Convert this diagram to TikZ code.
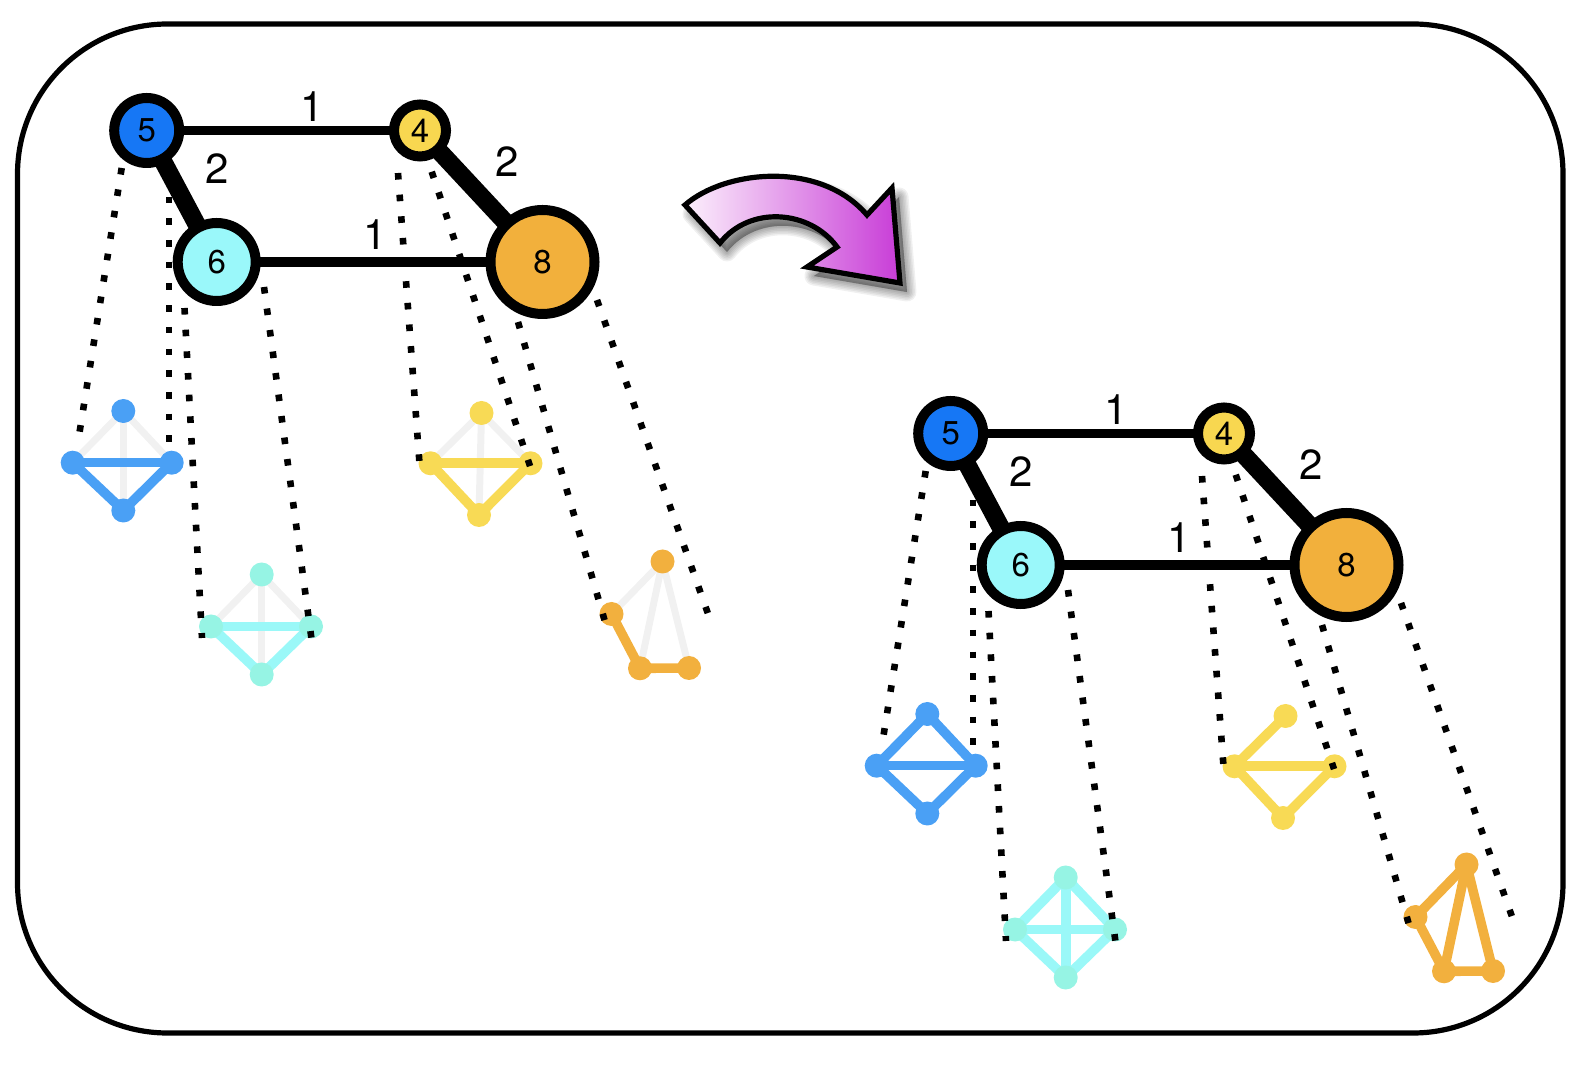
\documentclass[tikz,border=0pt]{standalone}
\usepackage{fontspec}
\setmainfont{TeX Gyre Heros}
\pgfdeclarelayer{lA}
\pgfdeclarelayer{lB}
\pgfdeclarelayer{lC}
\pgfdeclarelayer{lD}
\pgfsetlayers{lA,lB,lC,lD,main}
\definecolor{cBlue}{RGB}{22,119,245}
\definecolor{cYel}{RGB}{248,215,80}
\definecolor{cCyan}{RGB}{154,248,250}
\definecolor{cOra}{RGB}{242,176,60}
\definecolor{sBlue}{RGB}{74,160,245}
\definecolor{sCyan}{RGB}{154,248,248}
\definecolor{sMint}{RGB}{150,244,228}
\definecolor{sYel}{RGB}{248,218,85}
\definecolor{sOra}{RGB}{242,176,62}
\definecolor{sGrey}{RGB}{241,241,241}
\definecolor{aL}{RGB}{252,240,252}
\definecolor{aR}{RGB}{200,60,215}
\tikzset{
  bignode/.style={circle, draw=black, line width=5pt, inner sep=0pt, font=\fontsize{16.5}{16.5}\selectfont},
  wlabel/.style={inner sep=0pt, font=\fontsize{21}{21}\selectfont},
  dotline/.style={line width=3.3pt, dash pattern=on 3.3pt off 7.55pt},
  sdot/.style={circle, inner sep=0pt, minimum size=12pt, fill=#1},
  sedge/.style={line width=4.8pt, draw=#1},
  gedge/.style={line width=3.5pt, draw=sGrey},
  thinedge/.style={line width=4.6pt},
  thickedge/.style={line width=9pt},
}
\newcommand\halfpic[1]{%
  \node[bignode, fill=cBlue, minimum size=32.5pt] (#1n5) at (146.7,130.5) {5};
  \node[bignode, fill=cYel, minimum size=26pt] (#1n4) at (420,130.5) {4};
  \node[bignode, fill=cCyan, minimum size=39pt] (#1n6) at (216.7,262) {6};
  \node[bignode, fill=cOra, minimum size=52pt] (#1n8) at (542.5,262) {8};
  \node[wlabel] (#1w54) at (311.7,106.7) {1};
  \node[wlabel] (#1w56) at (216.7,168.3) {2};
  \node[wlabel] (#1w48) at (506.7,161.7) {2};
  \node[wlabel] (#1w68) at (375,235) {1};
  \begin{pgfonlayer}{lD}
    \draw[thinedge] (#1n5.center) -- (#1n4.center);
    \draw[thinedge] (#1n6.center) -- (#1n8.center);
    \draw[thickedge] (#1n5.center) -- (#1n6.center);
    \draw[thickedge] (#1n4.center) -- (#1n8.center);
  \end{pgfonlayer}
  \begin{pgfonlayer}{lB}
    \node[sdot=sBlue] (#1bT) at (123.3,411) {};
    \node[sdot=sBlue] (#1bL) at (72.7,462.7) {};
    \node[sdot=sBlue] (#1bR) at (171.7,462.7) {};
    \node[sdot=sBlue] (#1bB) at (123.3,510.5) {};
    \node[sdot=sMint] (#1cT) at (261.7,574.5) {};
    \node[sdot=sMint] (#1cL) at (211,626.5) {};
    \node[sdot=sMint] (#1cR) at (311,626.5) {};
    \node[sdot=sMint] (#1cB) at (261.7,674.5) {};
    \node[sdot=sYel] (#1yT) at (481.5,413) {};
    \node[sdot=sYel] (#1yL) at (430.5,463.3) {};
    \node[sdot=sYel] (#1yR) at (530.5,463.3) {};
    \node[sdot=sYel] (#1yB) at (479,515) {};
    \node[sdot=sOra] (#1oT) at (662.5,561.5) {};
    \node[sdot=sOra] (#1oL) at (611.5,614) {};
    \node[sdot=sOra] (#1oBL) at (640,668.3) {};
    \node[sdot=sOra] (#1oBR) at (689,668) {};
  \end{pgfonlayer}
  \coordinate (#1dA1) at (121.7,168); \coordinate (#1dA2) at (78,442);
  \coordinate (#1dB1) at (169,175);   \coordinate (#1dB2) at (169,442);
  \coordinate (#1dC1) at (184.5,308); \coordinate (#1dC2) at (202,638);
  \coordinate (#1dD1) at (264,287);   \coordinate (#1dD2) at (313,650);
  \coordinate (#1dE1) at (398,173);   \coordinate (#1dE2) at (420,470);
  \coordinate (#1dF1) at (431.7,171.7); \coordinate (#1dF2) at (533,475);
  \coordinate (#1dG1) at (518,322);   \coordinate (#1dG2) at (608,632);
  \coordinate (#1dH1) at (597,300);   \coordinate (#1dH2) at (712,625);
  \begin{pgfonlayer}{lC}
    \foreach \k in {A,B,C,D,E,F,G,H} {\draw[dotline] (#1d\k1) -- (#1d\k2);}
  \end{pgfonlayer}
}
\newcommand\arrowpath{(685,205) .. controls (725,170) and (820,160) .. (867,215) -- (892,188) -- (900,283) -- (807,267) -- (837,247) .. controls (810,210) and (750,205) .. (720,243) -- cycle}
\begin{document}
\begin{tikzpicture}[x=0.5pt, y=-0.5pt]
  \useasboundingbox (0,0) rectangle (1596,1068);
  \draw[line width=2.6pt, rounded corners=75pt] (17.5,24) rectangle (1563,1033);
  % arrow with soft shadow
  \foreach \w in {0.5,2,3.5,5,6.5,8,9.5} {
    \path[fill=black, draw=black, line width=\w pt, opacity=0.06, line join=round, shift={(7,9)}] \arrowpath;
  }
  \path[draw=black, line width=2.6pt, left color=aL, right color=aR] \arrowpath;
  \begin{scope}
    \halfpic{L}
  \end{scope}
  \begin{scope}[shift={(804,303)}]
    \halfpic{R}
  \end{scope}
  \begin{pgfonlayer}{lA}
    % left small graphs
    \draw[gedge] (LbT.center) -- (LbL.center);
    \draw[gedge] (LbT.center) -- (LbR.center);
    \draw[gedge] (LbT.center) -- (LbB.center);
    \draw[sedge=sBlue] (LbL.center) -- (LbR.center);
    \draw[sedge=sBlue] (LbL.center) -- (LbB.center);
    \draw[sedge=sBlue] (LbR.center) -- (LbB.center);
    \draw[gedge] (LcT.center) -- (LcL.center);
    \draw[gedge] (LcT.center) -- (LcR.center);
    \draw[gedge] (LcT.center) -- (LcB.center);
    \draw[sedge=sCyan] (LcL.center) -- (LcR.center);
    \draw[sedge=sCyan] (LcL.center) -- (LcB.center);
    \draw[sedge=sCyan] (LcR.center) -- (LcB.center);
    \draw[gedge] (LyT.center) -- (LyL.center);
    \draw[gedge] (LyT.center) -- (LyR.center);
    \draw[gedge] (LyT.center) -- (LyB.center);
    \draw[sedge=sYel] (LyL.center) -- (LyR.center);
    \draw[sedge=sYel] (LyL.center) -- (LyB.center);
    \draw[sedge=sYel] (LyR.center) -- (LyB.center);
    \draw[gedge] (LoT.center) -- (LoL.center);
    \draw[gedge] (LoT.center) -- (LoBL.center);
    \draw[gedge] (LoT.center) -- (LoBR.center);
    \draw[sedge=sOra] (LoL.center) -- (LoBL.center);
    \draw[sedge=sOra] (LoBL.center) -- (LoBR.center);
    % right small graphs
    \draw[sedge=sBlue] (RbT.center) -- (RbL.center);
    \draw[sedge=sBlue] (RbT.center) -- (RbR.center);
    \draw[sedge=sBlue] (RbL.center) -- (RbR.center);
    \draw[sedge=sBlue] (RbL.center) -- (RbB.center);
    \draw[sedge=sBlue] (RbR.center) -- (RbB.center);
    \draw[sedge=sCyan] (RcT.center) -- (RcL.center);
    \draw[sedge=sCyan] (RcT.center) -- (RcR.center);
    \draw[sedge=sCyan] (RcT.center) -- (RcB.center);
    \draw[sedge=sCyan] (RcL.center) -- (RcR.center);
    \draw[sedge=sCyan] (RcL.center) -- (RcB.center);
    \draw[sedge=sCyan] (RcR.center) -- (RcB.center);
    \draw[sedge=sYel] (RyT.center) -- (RyL.center);
    \draw[sedge=sYel] (RyL.center) -- (RyR.center);
    \draw[sedge=sYel] (RyL.center) -- (RyB.center);
    \draw[sedge=sYel] (RyR.center) -- (RyB.center);
    \draw[sedge=sOra] (RoT.center) -- (RoL.center);
    \draw[sedge=sOra] (RoT.center) -- (RoBL.center);
    \draw[sedge=sOra] (RoT.center) -- (RoBR.center);
    \draw[sedge=sOra] (RoL.center) -- (RoBL.center);
    \draw[sedge=sOra] (RoBL.center) -- (RoBR.center);
  \end{pgfonlayer}
\end{tikzpicture}
\end{document}
